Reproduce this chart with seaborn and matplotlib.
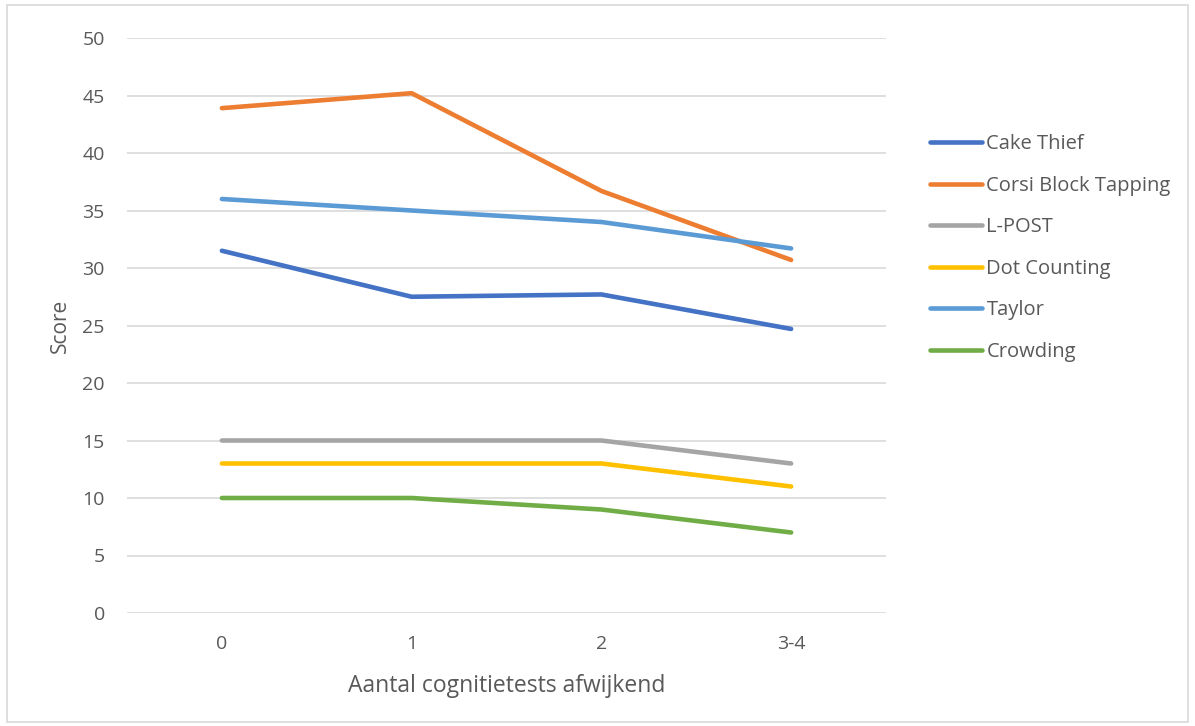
import matplotlib
matplotlib.use("Agg")
import matplotlib.pyplot as plt
from matplotlib.patches import Rectangle
import pandas as pd
import seaborn as sns

categories = ["0", "1", "2", "3-4"]
cake_thief = [31.5, 27.5, 27.7, 24.7]
corsi = [43.9, 45.2, 36.7, 30.7]
lpost = [15, 15, 15, 13]
dot_counting = [13, 13, 13, 11]
taylor = [36, 35, 34, 31.7]
crowding = [10, 10, 9, 7]

series_names = ["Cake Thief", "Corsi Block Tapping", "L-POST", "Dot Counting", "Taylor", "Crowding"]
series_values = [cake_thief, corsi, lpost, dot_counting, taylor, crowding]
colors = ["#4472C4", "#ED7D31", "#A5A5A5", "#FFC000", "#5B9BD5", "#70AD47"]

rows = []
for name, vals in zip(series_names, series_values):
    for cat, v in zip(categories, vals):
        rows.append({"cat": cat, "score": v, "test": name})
df = pd.DataFrame(rows)

sns.set_theme(style="white")
plt.rcParams["font.family"] = ["Open Sans", "DejaVu Sans"]
text_color = "#595959"

W, H = 1195, 726
fig = plt.figure(figsize=(W / 100, H / 100), dpi=100)
ax = fig.add_axes([127 / W, 113 / H, (886 - 127) / W, (613 - 38) / H])

sns.lineplot(data=df, x="cat", y="score", hue="test", hue_order=series_names,
             palette=colors, linewidth=3.3, ax=ax, sort=False,
             solid_capstyle="round", solid_joinstyle="round")

ax.set_xlim(-0.5, 3.5)
ax.set_ylim(0, 50)
ax.set_yticks(range(0, 51, 5))
ax.set_xticks(range(len(categories)))
ax.set_xticklabels(categories)
ax.yaxis.grid(True, color="#D9D9D9", linewidth=1.2)
ax.set_axisbelow(True)
for s in ax.spines.values():
    s.set_visible(False)
ax.tick_params(axis="both", length=0, labelsize=14, labelcolor=text_color)
ax.tick_params(axis="y", pad=16)
ax.tick_params(axis="x", pad=16)
ax.set_xlabel("Aantal cognitietests afwijkend", fontsize=16.5, color=text_color)
ax.set_ylabel("Score", fontsize=15, color=text_color)
ax.xaxis.set_label_coords(0.5, (613 - 686) / 575)
ax.yaxis.set_label_coords((60 - 127) / 759, 0.5)
ax.xaxis.label.set_va("center")
ax.yaxis.label.set_va("center")

handles, labels = ax.get_legend_handles_labels()
ax.get_legend().remove()
for h in handles:
    h.set_linewidth(3.3)
leg = fig.legend(handles, labels, loc="upper left", bbox_to_anchor=(922 / W, 1 - 126 / H),
                 frameon=False, fontsize=14.5, handlelength=2.6, handletextpad=0.2,
                 labelspacing=1.07, borderaxespad=0)
for t in leg.get_texts():
    t.set_color(text_color)

fig.patches.append(Rectangle((7 / W, 4 / H), 1181 / W, 717 / H,
                             transform=fig.transFigure, fill=False,
                             edgecolor="#D9D9D9", linewidth=1.2))

fig.savefig("out.png", dpi=100, facecolor="white")
